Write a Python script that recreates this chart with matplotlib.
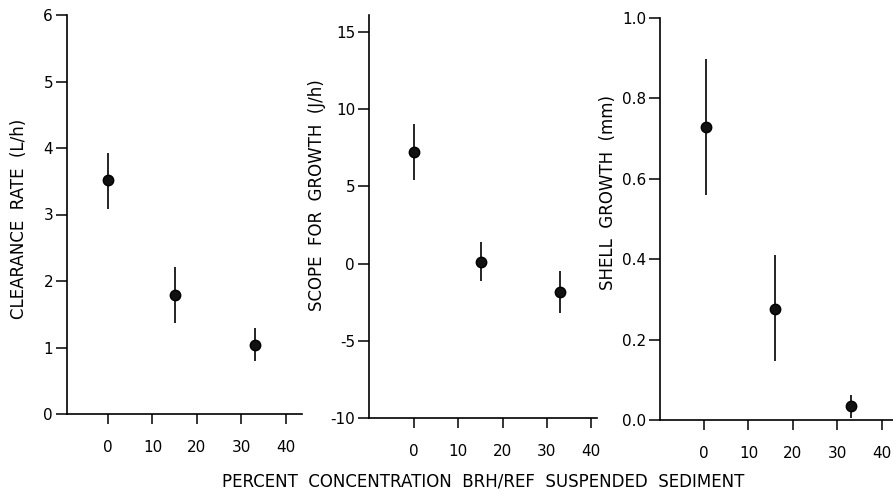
import matplotlib
matplotlib.use("Agg")
import matplotlib.pyplot as plt

# Data
conc_cr = [0, 15, 33]
clearance = [3.52, 1.79, 1.04]
clearance_lo = [3.09, 1.37, 0.80]
clearance_hi = [3.93, 2.21, 1.29]

conc_sfg = [0, 15, 33]
scope = [7.2, 0.1, -1.85]
scope_lo = [5.4, -1.1, -3.2]
scope_hi = [9.05, 1.4, -0.5]

conc_sg = [0.5, 16, 33]
shell = [0.73, 0.276, 0.034]
shell_lo = [0.56, 0.147, 0.005]
shell_hi = [0.898, 0.41, 0.062]

xticks = [0, 10, 20, 30, 40]
xticklabels = ["0", "10", "20", "30", "40"]

yt1 = [0, 1, 2, 3, 4, 5, 6]
yl1 = ["0", "1", "2", "3", "4", "5", "6"]
yt2 = [-10, -5, 0, 5, 10, 15]
yl2 = ["-10", "-5", "0", "5", "10", "15"]
yt3 = [0.0, 0.2, 0.4, 0.6, 0.8, 1.0]
yl3 = ["0.0", "0.2", "0.4", "0.6", "0.8", "1.0"]

ylabels = ["CLEARANCE  RATE  (L/h)", "SCOPE  FOR  GROWTH  (J/h)", "SHELL  GROWTH  (mm)"]
xlabel = "PERCENT  CONCENTRATION  BRH/REF  SUSPENDED  SEDIMENT"

plt.rcParams['font.family'] = ['DejaVu Sans']

W, H = 893, 495
fig = plt.figure(figsize=(W / 100, H / 100), dpi=100)

def frac(l, r, t, b):
    return [l / W, 1 - b / H, (r - l) / W, (b - t) / H]

panels = [
    dict(rect=frac(67, 302, 15, 414), x=conc_cr, y=clearance, lo=clearance_lo, hi=clearance_hi,
         xlim=(-9.2, 43.6), ylim=(0, 6), yt=yt1, yl=yl1, ylab=ylabels[0], ylabpos=(19, 219)),
    dict(rect=frac(369, 597, 15, 418), x=conc_sfg, y=scope, lo=scope_lo, hi=scope_hi,
         xlim=(-10.2, 41.3), ylim=(-10, 16.1), yt=yt2, yl=yl2, ylab=ylabels[1], ylabpos=(317, 195)),
    dict(rect=frac(660, 893, 18, 420), x=conc_sg, y=shell, lo=shell_lo, hi=shell_hi,
         xlim=(-9.9, 42.5), ylim=(0, 1.0), yt=yt3, yl=yl3, ylab=ylabels[2], ylabpos=(608, 192)),
]

for p in panels:
    ax = fig.add_axes(p["rect"])
    yerr = [[v - l for v, l in zip(p["y"], p["lo"])], [h - v for v, h in zip(p["y"], p["hi"])]]
    ax.errorbar(p["x"], p["y"], yerr=yerr, fmt="o", color="black", ms=7.5,
                elinewidth=1.2, capsize=0, mfc="#111111", mec="black")
    ax.set_xlim(*p["xlim"])
    ax.set_ylim(*p["ylim"])
    ax.set_xticks(xticks)
    ax.set_xticklabels(xticklabels, fontsize=11)
    ax.set_yticks(p["yt"])
    ax.set_yticklabels(p["yl"], fontsize=11)
    for s in ["top", "right"]:
        ax.spines[s].set_visible(False)
    for s in ["left", "bottom"]:
        ax.spines[s].set_linewidth(1.2)
    ax.tick_params(axis="y", direction="out", length=8, width=1.1, pad=2, colors="black")
    ax.tick_params(axis="x", direction="out", length=7, width=1.1, pad=12, colors="black")
    ax.patch.set_alpha(0)
    fig.text(p["ylabpos"][0] / W, 1 - p["ylabpos"][1] / H, p["ylab"], rotation=90,
             ha="center", va="center", fontsize=12)

fig.text(483 / W, 1 - 482 / H, xlabel, ha="center", va="center", fontsize=12)

fig.savefig("out.png", dpi=100)
